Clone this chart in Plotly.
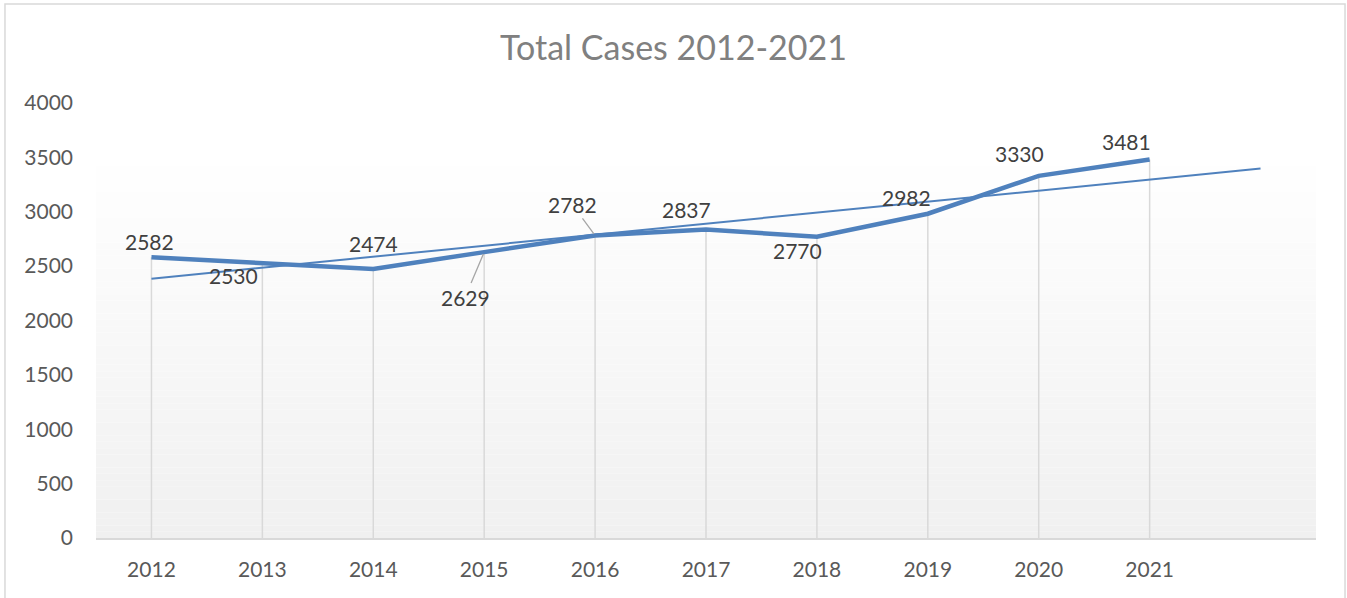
import numpy as np
import plotly.graph_objects as go

# ---- data ----
years = ["2012", "2013", "2014", "2015", "2016", "2017", "2018", "2019", "2020", "2021"]
cases = [2582, 2530, 2474, 2629, 2782, 2837, 2770, 2982, 3330, 3481]
y_ticks = [0, 500, 1000, 1500, 2000, 2500, 3000, 3500, 4000]
title_text = "Total Cases 2012-2021"

# label offsets (px) mimicking Excel's auto placement: (dx, dy, leader)
label_style = [
    (-2, -16, False), (-29, 13, False), (0, -25, False), (-19, 45, True), (-23, -31, True),
    (-20, -20, False), (-19, 14, False), (-21, -16, False), (-19, -22, False), (-23, -18, False),
]

idx = np.arange(len(years))
# linear trendline with one-period forward forecast
slope, intercept = np.polyfit(idx + 1, cases, 1)
trend_x = np.array([0, len(years)])
trend_y = slope * (trend_x + 1) + intercept

LINE = "#4f81bd"
fig = go.Figure()

# drop lines
dx, dy = [], []
for i, v in zip(idx, cases):
    dx += [i, i, None]
    dy += [0, v, None]
fig.add_trace(go.Scatter(x=dx, y=dy, mode="lines", line=dict(color="#d9d9d9", width=1.5),
                         hoverinfo="skip", showlegend=False))
fig.add_trace(go.Scatter(x=idx, y=cases, mode="lines", line=dict(color=LINE, width=4.5),
                         showlegend=False))
fig.add_trace(go.Scatter(x=trend_x, y=trend_y, mode="lines", line=dict(color=LINE, width=2),
                         showlegend=False))

# gradient plot background (bands)
shapes = []
n = 60
top = 3540
for k in range(n):
    y0 = top * k / n
    y1 = top * (k + 1) / n
    t = k / (n - 1)
    c = int(round(240 + (255 - 240) * t))
    shapes.append(dict(type="rect", xref="paper", yref="y", x0=0, x1=1, y0=y0, y1=y1,
                       fillcolor=f"rgb({c},{c},{c})", line=dict(width=0), layer="below"))
# chart border
shapes.append(dict(type="rect", xref="paper", yref="paper", x0=-0.0746, x1=1.0238,
                   y0=-0.16, y1=1.2276, line=dict(color="#d9d9d9", width=1.5),
                   fillcolor="rgba(0,0,0,0)", layer="below"))

annotations = []
for i, v, (ox, oy, leader) in zip(idx, cases, label_style):
    if leader:
        annotations.append(dict(x=i, y=v, text=str(v), showarrow=True, arrowhead=0,
                                arrowwidth=1.3, arrowcolor="#a6a6a6", ax=ox, ay=oy, standoff=2,
                                font=dict(family="Lato", size=21, color="#404040")))
    else:
        annotations.append(dict(x=i, y=v, text=str(v), showarrow=False, xshift=ox, yshift=-oy,
                                font=dict(family="Lato", size=21, color="#404040")))

fig.update_layout(
    width=1347, height=598,
    margin=dict(l=96, r=31, t=103, b=60),
    paper_bgcolor="white", plot_bgcolor="white",
    title=dict(text=title_text, x=0.5, xanchor="center", y=0.92, yanchor="middle",
               font=dict(family="Lato", size=34, color="#808080")),
    shapes=shapes, annotations=annotations,
    xaxis=dict(range=[-0.5, len(years) + 0.5], tickvals=list(idx), ticktext=years,
               showgrid=False, zeroline=False, showline=True, linecolor="#d9d9d9", linewidth=2,
               ticks="", ticklabelstandoff=12,
               tickfont=dict(family="Lato", size=21, color="#595959")),
    yaxis=dict(range=[0, 4000], tickvals=y_ticks, showgrid=False, zeroline=False,
               showline=False, ticks="", ticklabelstandoff=22,
               tickfont=dict(family="Lato", size=21, color="#595959")),
    showlegend=False,
)

fig.write_html("out.html", config={"displayModeBar": False},
               post_script="document.body.style.margin='0px';")
